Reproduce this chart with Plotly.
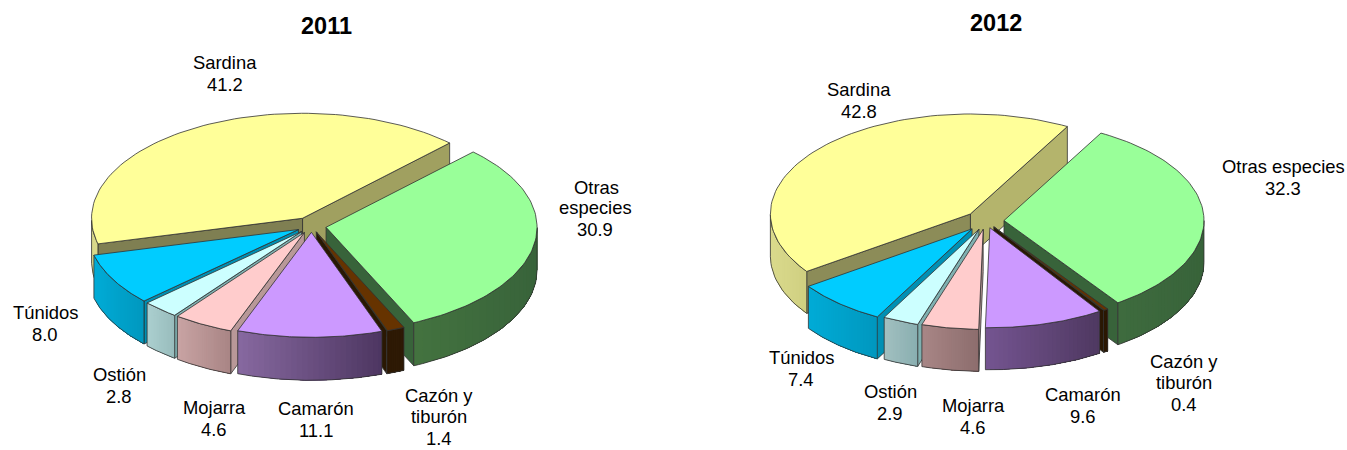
import math
import plotly.graph_objects as go

species = ["Sardina", "Otras especies", "Cazón y tiburón", "Camarón", "Mojarra", "Ostión", "Túnidos"]
values_2011 = [41.2, 30.9, 1.4, 11.1, 4.6, 2.8, 8.0]
values_2012 = [42.8, 32.3, 0.4, 9.6, 4.6, 2.9, 7.4]

top_colors = ["#FFFF99", "#99FF99", "#663300", "#CC99FF", "#FFCCCC", "#CCFFFF", "#00CCFF"]
wall_left_2011 = ["#D9D98A", "#43723F", "#2E1A05", "#86689F", "#C8A3A3", "#ABCFCF", "#00ABD6"]
wall_right_2011 = ["#D9D98A", "#38633A", "#2E1A05", "#4C3560", "#A88484", "#98BCBC", "#0097BE"]
wall_left_2012 = ["#DADA8C", "#3E6B3E", "#2E1A05", "#745490", "#A88686", "#A2C0C0", "#00ABD6"]
wall_right_2012 = ["#CFCF80", "#38633A", "#2E1A05", "#4E3860", "#8C6C6C", "#88AEB0", "#0097BE"]
cut_hi_2011 = ["#7F7F52", "#38633A", "#2A1803", "#4C3560", "#B89898", "#7FB0B0", "#0090B4"]
cut_lo_2011 = ["#A0A060", "#38633A", "#2A1803", "#4C3560", "#B89898", "#7FB0B0", "#0090B4"]
cut_hi_2012 = ["#8C8C58", "#38633A", "#2A1803", "#4C3560", "#B89898", "#7FB0B0", "#0090B4"]
cut_lo_2012 = ["#B4B46C", "#38633A", "#2A1803", "#4C3560", "#B89898", "#7FB0B0", "#0090B4"]
paint_order = [0, 1, 6, 5, 4, 2, 3]

geometry_2011 = dict(cx=311.5, cy=226, rx=211, ry=105, depth=43, t0=45.8,
                     explode=[0.085, 0.07, 0.06, 0.06, 0.07, 0.07, 0.07],
                     wall_left=wall_left_2011, wall_right=wall_right_2011, cut_hi=cut_hi_2011, cut_lo=cut_lo_2011)
geometry_2012 = dict(cx=986, cy=221, rx=200, ry=100, depth=42, t0=61,
                     explode=[0.105, 0.09, 0.07, 0.07, 0.085, 0.09, 0.105],
                     wall_left=wall_left_2012, wall_right=wall_right_2012, cut_hi=cut_hi_2012, cut_lo=cut_lo_2012)

labels_2011 = [("Sardina", 225, 62), ("41.2", 225, 84), ("Otras", 596, 187), ("especies", 595, 207),
               ("30.9", 595, 229), ("Cazón y", 439, 395), ("tiburón", 439, 416.5), ("1.4", 439, 438),
               ("Camarón", 316, 408), ("11.1", 316, 430), ("Mojarra", 214, 407), ("4.6", 214, 429),
               ("Ostión", 119, 374), ("2.8", 119, 396), ("Túnidos", 45, 312), ("8.0", 45, 334)]
labels_2012 = [("Sardina", 859, 89), ("42.8", 859, 111), ("Otras especies", 1283, 166), ("32.3", 1283, 188),
               ("Cazón y", 1184, 361), ("tiburón", 1184, 382), ("0.4", 1184, 404),
               ("Camarón", 1083, 394), ("9.6", 1083, 416), ("Mojarra", 973, 405), ("4.6", 973, 427),
               ("Ostión", 890, 391), ("2.9", 890, 413), ("Túnidos", 801, 357), ("7.4", 801, 379)]
titles = [("2011", 326, 26), ("2012", 996, 23)]

OUTLINE = "rgba(50,50,50,0.8)"
fig = go.Figure()


def mix(c1, c2, f):
    a = [int(c1[i:i + 2], 16) for i in (1, 3, 5)]
    b = [int(c2[i:i + 2], 16) for i in (1, 3, 5)]
    return "rgb(%d,%d,%d)" % tuple(round(p + (q - p) * f) for p, q in zip(a, b))


def poly(xs, ys, fill, line=None, width=1):
    fig.add_trace(go.Scatter(x=xs + xs[:1], y=ys + ys[:1], mode="lines", fill="toself", fillcolor=fill,
                             line=dict(color=line or fill, width=width), hoverinfo="skip", showlegend=False))


def draw_pie(values, cx, cy, rx, ry, depth, t0, explode, wall_left, wall_right, cut_hi, cut_lo):
    total = sum(values)
    # Sardina runs counter-clockwise from the start angle; the others run clockwise.
    spans = [(t0 + values[0] / total * 360, t0)]
    t = t0
    for v in values[1:]:
        spans.append((t, t - v / total * 360))
        t = spans[-1][1]
    for i in paint_order:
        hi, lo = spans[i]
        mid = math.radians((hi + lo) / 2)
        ax = cx + explode[i] * rx * math.cos(mid)
        ay = cy - explode[i] * ry * math.sin(mid)
        px = lambda d: ax + rx * math.cos(math.radians(d))
        py = lambda d: ay - ry * math.sin(math.radians(d))
        # radial cut faces
        if math.cos(math.radians(lo)) > 0:
            poly([ax, px(lo), px(lo), ax], [ay, py(lo), py(lo) + depth, ay + depth], cut_lo[i], OUTLINE)
        if math.cos(math.radians(hi)) < 0:
            poly([ax, px(hi), px(hi), ax], [ay, py(hi), py(hi) + depth, ay + depth], cut_hi[i], OUTLINE)
        # outer wall, shaded: each step repaints everything from its angle to the far end
        angles = [lo + (hi - lo) * k / 80 for k in range(81)]
        wall = [d for d in angles if math.sin(math.radians(d)) < 0]
        if len(wall) > 1:
            ordered = sorted(wall, key=px)
            x_min, x_max = px(ordered[0]), px(ordered[-1])
            step = max(1, len(ordered) // 24)
            for k in range(0, len(ordered) - 1, step):
                rest = ordered[k:]
                f = (px(rest[0]) - x_min) / max(x_max - x_min, 1)
                c = mix(wall_left[i], wall_right[i], f)
                poly([px(d) for d in rest] + [px(d) for d in reversed(rest)],
                     [py(d) for d in rest] + [py(d) + depth for d in reversed(rest)], c, c, 0)
            outer_x = [px(d) for d in wall] + [px(d) for d in reversed(wall)]
            outer_y = [py(d) for d in wall] + [py(d) + depth for d in reversed(wall)]
            fig.add_trace(go.Scatter(x=outer_x + outer_x[:1], y=outer_y + outer_y[:1], mode="lines",
                                     line=dict(color=OUTLINE, width=1), hoverinfo="skip", showlegend=False))
        # top face
        xs = [ax] + [px(d) for d in angles]
        ys = [ay] + [py(d) for d in angles]
        poly(xs, ys, top_colors[i], OUTLINE)


draw_pie(values_2011, **geometry_2011)
draw_pie(values_2012, **geometry_2012)

annotations = []
for text, x, y in labels_2011 + labels_2012:
    annotations.append(dict(x=x, y=y, text=text, showarrow=False, xanchor="center", yanchor="middle",
                            font=dict(family="Liberation Sans", size=18.4, color="#000000")))
for text, x, y in titles:
    annotations.append(dict(x=x, y=y, text="<b>%s</b>" % text, showarrow=False, xanchor="center", yanchor="middle",
                            font=dict(family="Liberation Sans", size=23.5, color="#000000")))

fig.update_layout(width=1347, height=450, margin=dict(l=0, r=0, t=0, b=0), paper_bgcolor="white",
                  plot_bgcolor="white", showlegend=False, annotations=annotations,
                  xaxis=dict(range=[0, 1347], visible=False, fixedrange=True),
                  yaxis=dict(range=[450, 0], visible=False, fixedrange=True))
fig.write_html("out.html", config={"displayModeBar": False}, post_script="document.body.style.margin='0';")
